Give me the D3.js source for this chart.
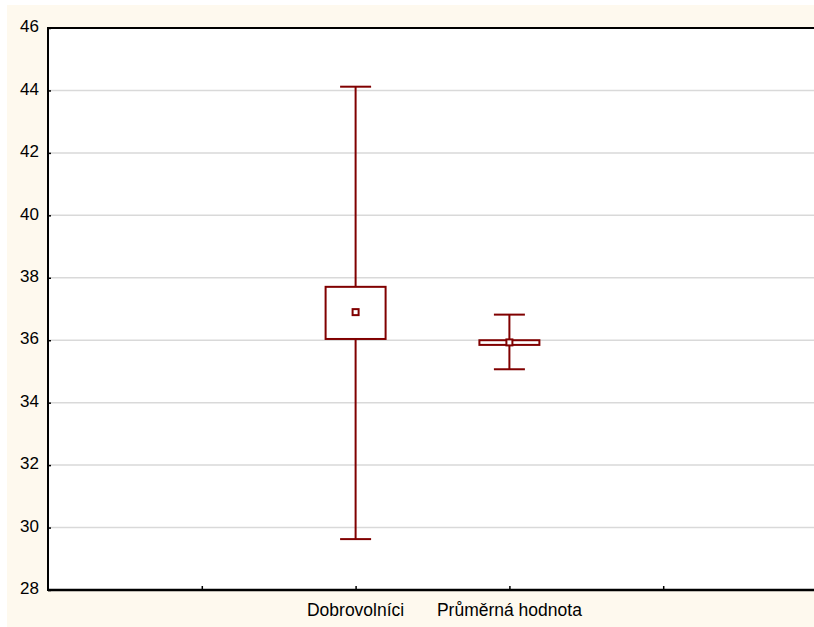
<!DOCTYPE html>
<html>
<head>
<meta charset="utf-8">
<script src="https://cdn.jsdelivr.net/npm/d3@7"></script>
<style>
  html, body { margin: 0; padding: 0; background: #ffffff; }
  svg { display: block; }
  text { font-family: "Liberation Sans", Arial, sans-serif; fill: #000; }
</style>
</head>
<body>
<svg id="chart" width="814" height="627"></svg>
<script>
const categories = ["Dobrovolníci", "Průměrná hodnota"];
const catPositions = [2, 3];
const means = [36.90, 35.93];
const boxLow = [36.04, 35.85];
const boxHigh = [37.71, 36.00];
const whiskerLow = [29.63, 35.07];
const whiskerHigh = [44.12, 36.82];
const yTicks = [28, 30, 32, 34, 36, 38, 40, 42, 44, 46];
const xTicks = [1, 2, 3, 4];

const svg = d3.select("#chart");
const width = +svg.attr("width");
const height = +svg.attr("height");
const plotLeft = 48, plotTop = 28, plotBottom = 590;
const boxColor = "#800000";

// cream frame behind everything
svg.append("rect")
  .attr("x", 7).attr("y", 5)
  .attr("width", width - 7).attr("height", height - 5)
  .attr("fill", "#fef9ee");

svg.append("rect")
  .attr("x", plotLeft).attr("y", plotTop)
  .attr("width", width - plotLeft).attr("height", plotBottom - plotTop)
  .attr("fill", "#ffffff");

const x = d3.scaleLinear().domain([0, 5]).range([plotLeft, 817]);
const y = d3.scaleLinear().domain([28, 46]).range([plotBottom, plotTop]);

// grid
svg.append("g")
  .selectAll("line")
  .data(yTicks.filter(d => d !== 28 && d !== 46))
  .enter().append("line")
  .attr("x1", plotLeft).attr("x2", width)
  .attr("y1", d => y(d)).attr("y2", d => y(d))
  .attr("stroke", "#d9d9d9")
  .attr("stroke-width", 1.5);

// y axis
const yAxis = d3.axisLeft(y).tickValues(yTicks).tickSize(-3).tickPadding(9).tickFormat(d3.format("d"));
const gy = svg.append("g").attr("transform", `translate(${plotLeft},0)`).call(yAxis);
gy.select(".domain").remove();
gy.selectAll(".tick line").attr("stroke", "#000").attr("stroke-width", 1.5);
gy.selectAll("text").style("font-size", "17px").attr("dy", "0.22em");

// x axis ticks
const xAxis = d3.axisBottom(x).tickValues(xTicks).tickSize(-4).tickFormat("");
const gx = svg.append("g").attr("transform", `translate(0,${plotBottom})`).call(xAxis);
gx.select(".domain").remove();
gx.selectAll(".tick line").attr("stroke", "#000").attr("stroke-width", 1.5);

// frame lines
svg.append("line").attr("x1", plotLeft).attr("x2", width).attr("y1", plotTop).attr("y2", plotTop)
  .attr("stroke", "#000").attr("stroke-width", 2);
svg.append("line").attr("x1", plotLeft).attr("x2", width).attr("y1", plotBottom).attr("y2", plotBottom)
  .attr("stroke", "#000").attr("stroke-width", 2.5);
svg.append("line").attr("x1", plotLeft).attr("x2", plotLeft).attr("y1", plotTop - 1).attr("y2", plotBottom + 1)
  .attr("stroke", "#000").attr("stroke-width", 2);

// category labels
svg.append("g")
  .selectAll("text")
  .data(categories)
  .enter().append("text")
  .attr("x", (d, i) => x(catPositions[i]))
  .attr("y", 616)
  .attr("text-anchor", "middle")
  .style("font-size", "17.5px")
  .text(d => d);

// boxes and whiskers
const boxW = 60, capW = 31, markW = 6;
const boxes = svg.append("g")
  .selectAll("g")
  .data(categories)
  .enter().append("g")
  .attr("fill", "none")
  .attr("stroke", boxColor)
  .attr("stroke-width", 2);

boxes.append("line")
  .attr("x1", (d, i) => x(catPositions[i])).attr("x2", (d, i) => x(catPositions[i]))
  .attr("y1", (d, i) => y(whiskerHigh[i])).attr("y2", (d, i) => y(boxHigh[i]));
boxes.append("line")
  .attr("x1", (d, i) => x(catPositions[i])).attr("x2", (d, i) => x(catPositions[i]))
  .attr("y1", (d, i) => y(boxLow[i])).attr("y2", (d, i) => y(whiskerLow[i]));
boxes.append("line")
  .attr("x1", (d, i) => x(catPositions[i]) - capW / 2).attr("x2", (d, i) => x(catPositions[i]) + capW / 2)
  .attr("y1", (d, i) => y(whiskerHigh[i])).attr("y2", (d, i) => y(whiskerHigh[i]));
boxes.append("line")
  .attr("x1", (d, i) => x(catPositions[i]) - capW / 2).attr("x2", (d, i) => x(catPositions[i]) + capW / 2)
  .attr("y1", (d, i) => y(whiskerLow[i])).attr("y2", (d, i) => y(whiskerLow[i]));
boxes.append("rect")
  .attr("x", (d, i) => x(catPositions[i]) - boxW / 2)
  .attr("y", (d, i) => y(boxHigh[i]))
  .attr("width", boxW)
  .attr("height", (d, i) => y(boxLow[i]) - y(boxHigh[i]))
  .attr("fill", "#ffffff");
boxes.append("rect")
  .attr("x", (d, i) => x(catPositions[i]) - markW / 2)
  .attr("y", (d, i) => y(means[i]) - markW / 2)
  .attr("width", markW).attr("height", markW)
  .attr("fill", "#ffffff");
</script>
</body>
</html>
